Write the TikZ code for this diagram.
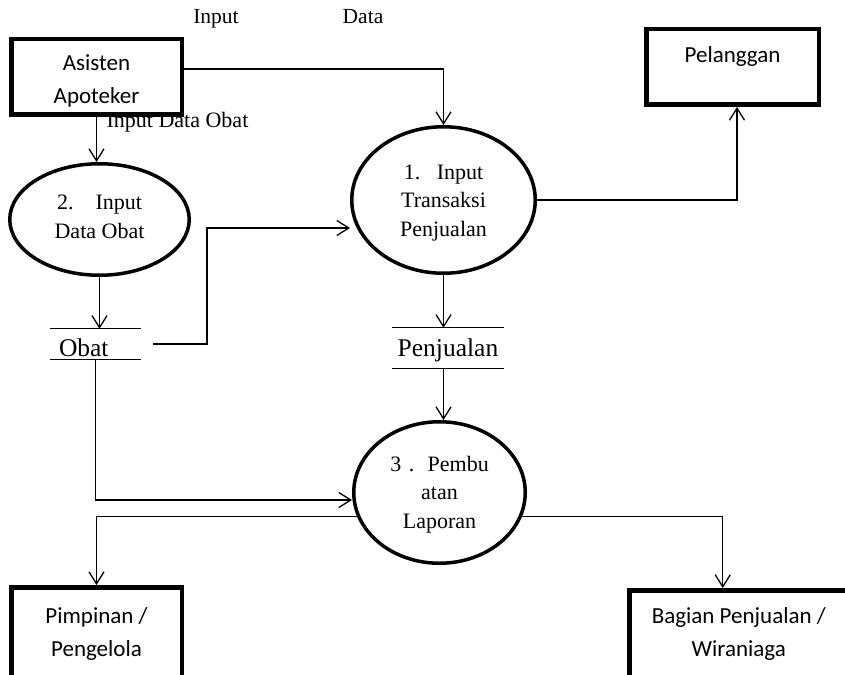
\documentclass[tikz,border=0pt]{standalone}
\usepackage{fontspec}
\setmainfont{Liberation Serif}
\newfontfamily\boxfont{Carlito}
\usetikzlibrary{shapes.geometric,arrows.meta}
\begin{document}
\begin{tikzpicture}[x=1pt,y=-1pt,
  entity/.style={draw, line width=4.5pt, fill=white, inner sep=0pt, align=center,
    font=\boxfont\fontsize{23}{33}\selectfont},
  process/.style={ellipse, draw, line width=3.5pt, fill=white, inner sep=0pt, align=center,
    text depth=0pt, font=\fontsize{22}{28.5}\selectfont},
  store/.style={inner sep=0pt, font=\fontsize{25.5}{30}\selectfont},
  rule/.style={line width=1.3pt},
  flow/.style={line width=1.3pt, -{Straight Barb[length=12pt,width=15pt]}},
  lbl/.style={inner sep=0pt, anchor=base, font=\fontsize{21.5}{26}\selectfont}]

\useasboundingbox (0,0) rectangle (845,674);
\clip (0,0) rectangle (845,674);

% flow labels
\node[lbl] (lin) at (216,23.3) {Input};
\node[lbl] (ldata) at (363,23.3) {Data};
\node[lbl, font=\fontsize{22}{26}\selectfont] (lobat) at (177.5,128) {Input Data Obat};

% external entities
\node[entity, minimum width=170.5, minimum height=75.5, text height=54pt, text depth=0pt]
  (asis) at (96.5,77) {Asisten\\Apoteker};
\node[entity, minimum width=172.5, minimum height=75.5, text depth=25pt]
  (pel) at (732.5,67) {Pelanggan};
\node[entity, minimum width=170.5, minimum height=90, text height=48pt, text depth=0pt]
  (pim) at (96.5,632.25) {Pimpinan /\\Pengelola};
\node[entity, minimum width=219, minimum height=88, text height=44pt, text depth=0pt]
  (bag) at (738.75,634.25) {Bagian Penjualan /\\Wiraniaga};

% processes
\node[process, minimum width=183.5, minimum height=146.5, text height=72pt] (p1) at (443.5,200)
  {1.\hspace{0.75em}Input\\Transaksi\\Penjualan};
\node[process, minimum width=179.5, minimum height=111.5, text height=37.6pt] (p2) at (99.5,219.5)
  {2.\hspace{1em}Input\\Data Obat};
\node[process, minimum width=171.5, minimum height=141.5, text height=71.6pt] (p3) at (439.5,492.5)
  {3\hspace{0.35em}.\hspace{0.6em}Pembu\\atan\\Laporan};

% data stores
\node[store, minimum width=91, minimum height=30, text width=73pt, inner xsep=9pt,
  align=left, text height=25.4pt, text depth=0pt] (obat) at (95.5,344) {Obat};
\node[store, minimum width=112, minimum height=40, text height=18.4pt, text depth=1pt]
  (pj) at (448,348) {Penjualan};
\draw[rule] (obat.north west) -- (obat.north east) (obat.south west) -- (obat.south east);
\draw[rule] (pj.north west) -- (pj.north east) (pj.south west) -- (pj.south east);

% data flows
\coordinate (jog) at (207,228);
\draw[flow] ([yshift=8pt]asis.east) -| (p1.north);
\draw[flow] (asis.south) -- (asis.south |- p2.north);
\draw[flow] (p2.south) -- (p2.south |- obat.north);
\draw[flow] ([xshift=12pt]obat.east) -| (jog) -- (jog -| p1.west);
\draw[flow] (p1.east) -| ([xshift=4.5pt]pel.south);
\draw[flow] (p1.south) -- (p1.south |- pj.north);
\draw[flow] (pj.south -| p1.south) -- (p1.south |- p3.north);
\draw[flow] (obat.south) |- ([yshift=-7.5pt]p3.west);
\draw[flow] (p3.196) -| (pim.north);
\draw[flow] (p3.-16) -| ([xshift=-16pt]bag.north);
\end{tikzpicture}
\end{document}
